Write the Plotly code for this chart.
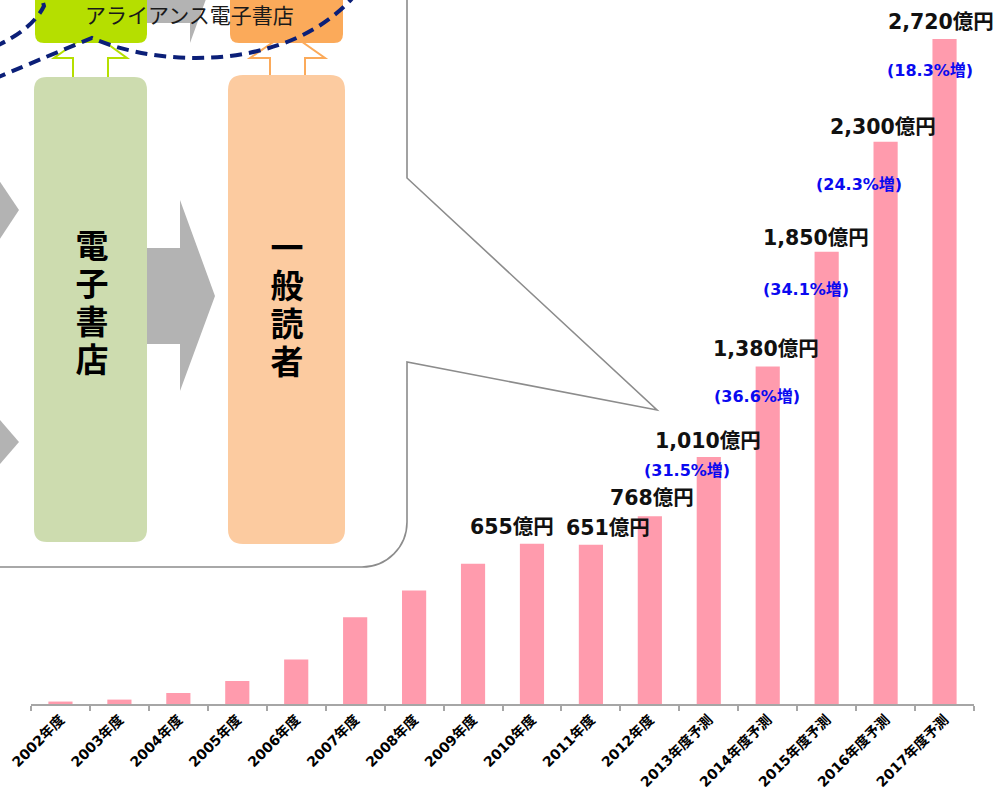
import plotly.graph_objects as go

# ---------------- data ----------------
categories = ["2002年度", "2003年度", "2004年度", "2005年度", "2006年度", "2007年度",
              "2008年度", "2009年度", "2010年度", "2011年度", "2012年度",
              "2013年度予測", "2014年度予測", "2015年度予測", "2016年度予測", "2017年度予測"]
values = [10, 18, 45, 94, 182, 355, 464, 574, 655, 651, 768, 1010, 1380, 1850, 2300, 2720]

value_label_cats = ["2010年度", "2011年度", "2012年度", "2013年度予測", "2014年度予測",
                    "2015年度予測", "2016年度予測", "2017年度予測"]
growth_cats = ["2013年度予測", "2014年度予測", "2015年度予測", "2016年度予測", "2017年度予測"]
growth_pct = ["31.5", "36.6", "34.1", "24.3", "18.3"]

# label placement offsets (pixels) – styling only
value_dx = [-20, 17, 2, -1, -2, -11, -3, -4]
value_dy = [17, 17, 18, 16, 18, 14, 15, 17]
growth_dx = [-22, -11, -21, -27, -15]
growth_dy = [-13, -30, -38, -43, -31]

W, H = 994, 794
ML, MR, MT, MB = 31, 20, 0, 90
PW, PH = W - ML - MR, H - MT - MB
TOP_PX = 39  # pixel row of the tallest bar top
YMAX = max(values) * PH / (PH - TOP_PX)

LAT_FONT = "DejaVu Sans, Noto Sans CJK JP, sans-serif"
JP_FONT = "Noto Sans CJK JP, sans-serif"

fig = go.Figure()
fig.add_trace(go.Bar(
    x=categories, y=values,
    marker=dict(color="#FF9BAD", line=dict(width=0)),
    hoverinfo="skip",
))

val_of = dict(zip(categories, values))
annotations = []
for c, dx, dy in zip(value_label_cats, value_dx, value_dy):
    annotations.append(dict(
        x=c, y=val_of[c], xref="x", yref="y", text=f"{val_of[c]:,}億円",
        showarrow=False, xanchor="center", yanchor="middle", xshift=dx, yshift=dy,
        font=dict(family=LAT_FONT, size=20.5, color="#111111", weight="bold")))
for c, g, dx, dy in zip(growth_cats, growth_pct, growth_dx, growth_dy):
    annotations.append(dict(
        x=c, y=val_of[c], xref="x", yref="y", text=f"({g}%増)",
        showarrow=False, xanchor="center", yanchor="middle", xshift=dx, yshift=dy,
        font=dict(family=LAT_FONT, size=16, color="#0A0AF0", weight="bold")))

# ---------------- decorative diagram (pixel -> paper helpers) ----------------
def px(x):
    return (x - ML) / PW

def py(y):
    return (MT + PH - y) / PH

def pt(x, y):
    return f"{px(x):.5f},{py(y):.5f}"

def poly(points):
    return "M " + " L ".join(pt(x, y) for x, y in points) + " Z"

def rrect(x0, y0, x1, y1, r):
    return (f"M {pt(x0 + r, y0)} L {pt(x1 - r, y0)} Q {pt(x1, y0)} {pt(x1, y0 + r)} "
            f"L {pt(x1, y1 - r)} Q {pt(x1, y1)} {pt(x1 - r, y1)} "
            f"L {pt(x0 + r, y1)} Q {pt(x0, y1)} {pt(x0, y1 - r)} "
            f"L {pt(x0, y0 + r)} Q {pt(x0, y0)} {pt(x0 + r, y0)} Z")

shapes = []

def add_path(path, fill=None, line_color=None, width=0, dash=None):
    line = dict(width=width, color=line_color or "rgba(0,0,0,0)")
    if dash:
        line["dash"] = dash
    shapes.append(dict(type="path", xref="paper", yref="paper", path=path,
                       fillcolor=fill or "rgba(0,0,0,0)", line=line, layer="above"))

# callout
callout = (f"M {pt(-20, -20)} L {pt(407, -20)} L {pt(407, 178)} L {pt(657, 410)} "
           f"L {pt(407, 362)} L {pt(407, 522)} C {pt(407, 547)} {pt(387, 567)} {pt(362, 567)} "
           f"L {pt(-20, 567)} Z")
add_path(callout, fill="white", line_color="#8C8C8C", width=1.6)

GREY = "#B3B3B3"
# grey arrows
add_path(poly([(147, 248), (180, 248), (180, 200), (215, 296), (180, 391), (180, 344), (147, 344)]), fill=GREY)
add_path(poly([(147, -130), (190, -130), (190, -149), (225, -53), (190, 43), (190, 23), (147, 23)]), fill=GREY)
add_path(poly([(-12, 164), (19, 210), (-12, 257)]), fill=GREY)
add_path(poly([(-12, 406), (19, 442), (-12, 478)]), fill=GREY)

# hollow up arrows
add_path(poly([(73, 80), (73, 58), (54, 58), (91, 32), (127, 58), (108, 58), (108, 80)]),
         fill="white", line_color="#B5DF00", width=2)
add_path(poly([(270, 78), (270, 58), (250, 58), (288, 32), (325, 58), (305, 58), (305, 78)]),
         fill="white", line_color="#FBAA5A", width=2)

# top boxes
add_path(rrect(35, -30, 147, 43, 9), fill="#B5DF00")
add_path(rrect(230, -30, 343, 43, 9), fill="#FBAA5A")

# big boxes
add_path(rrect(34, 77, 147, 542, 13), fill="#CDDCAF")
add_path(rrect(228, 75, 345, 544, 15), fill="#FCCBA0")

# dashed navy ellipse arcs
NAVY = "#0B1F78"
add_path(f"M {pt(-6, 47)} Q {pt(32, 30)} {pt(44, 6)} L {pt(40, -8)}",
         line_color=NAVY, width=4, dash="12px,7px")
add_path(f"M {pt(-6, 79)} Q {pt(50, 55)} {pt(92, 38)} C {pt(160, 68)} {pt(290, 72)} {pt(356, -6)}",
         line_color=NAVY, width=4, dash="12px,7px")

# diagram texts
annotations.append(dict(x=px(189), y=py(14), xref="paper", yref="paper", text="アライアンス電子書店",
                        showarrow=False, xanchor="center", yanchor="middle",
                        font=dict(family=JP_FONT, size=21, color="#1A1A1A")))
for i, ch in enumerate("電子書店"):
    annotations.append(dict(x=px(92), y=py(243 + 38 * i), xref="paper", yref="paper", text=ch,
                            showarrow=False, xanchor="center", yanchor="middle",
                            width=38, height=37, borderpad=0,
                            font=dict(family=JP_FONT, size=33, color="#000000", weight="bold")))
for i, ch in enumerate("一般読者"):
    annotations.append(dict(x=px(287), y=py(245 + 38 * i), xref="paper", yref="paper", text=ch,
                            showarrow=False, xanchor="center", yanchor="middle",
                            width=38, height=37, borderpad=0,
                            font=dict(family=JP_FONT, size=33, color="#000000", weight="bold")))

fig.update_layout(
    width=W, height=H,
    margin=dict(l=ML, r=MR, t=MT, b=MB, pad=0),
    paper_bgcolor="white", plot_bgcolor="white",
    showlegend=False, bargap=0.59,
    annotations=annotations, shapes=shapes,
    hovermode=False,
)
fig.update_xaxes(
    type="category", range=[-0.5, len(categories) - 0.5], autorange=False,
    tickangle=-45, tickson="boundaries",
    ticks="outside", ticklen=5, tickwidth=1.5, tickcolor="#A6A6A6",
    showline=True, linecolor="#A6A6A6", linewidth=2, showgrid=False,
    tickfont=dict(family=LAT_FONT, size=14, color="#000000", weight="bold"),
    automargin=False,
)
fig.update_yaxes(range=[0, YMAX], autorange=False, visible=False, showgrid=False, zeroline=False)

fig.write_html("out.html", config={"displayModeBar": False})
